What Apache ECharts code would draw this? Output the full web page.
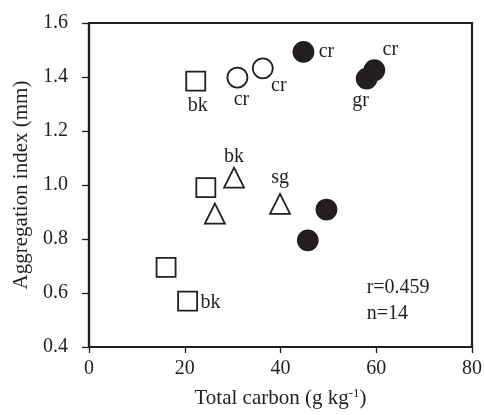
<!DOCTYPE html>
<html>
<head>
<meta charset="utf-8">
<script src="https://cdn.jsdelivr.net/npm/echarts@6/dist/echarts.min.js"></script>
<style>
  html, body { margin: 0; padding: 0; background: #fff; }
  #chart { width: 485px; height: 415px; }
</style>
</head>
<body>
<div id="chart"></div>
<script>
// Total carbon (g/kg) vs aggregation index (mm), grouped by marker type
const squaresX = [22.3, 24.4, 16.1, 20.6];
const squaresY = [1.385, 0.99, 0.695, 0.57];
const squaresTag = ['bk', '', '', 'bk'];

const openCirclesX = [31.0, 36.3];
const openCirclesY = [1.398, 1.432];
const openCirclesTag = ['cr', 'cr'];

const filledCirclesX = [44.8, 58.0, 59.6, 49.6, 45.7];
const filledCirclesY = [1.493, 1.394, 1.425, 0.909, 0.795];
const filledCirclesTag = ['cr', 'gr', 'cr', '', ''];

const trianglesX = [30.3, 39.9, 26.3];
const trianglesY = [1.027, 0.93, 0.894];
const trianglesTag = ['bk', 'sg', ''];

const xTicks = [0, 20, 40, 60, 80];
const yTicks = [0.4, 0.6, 0.8, 1.0, 1.2, 1.4, 1.6];
const statsText = ['r=0.459', 'n=14'];

const INK = '#231f20';
const FONT = '"Liberation Serif", "Times New Roman", serif';

// label placement (pixel offsets from each marker centre)
const squaresOffset = [[2, 25], null, null, [23, 2]];
const openCirclesOffset = [[4, 22], [16, 17]];
const filledCirclesOffset = [[23, 0], [-6, 22], [16, -21], null, null];
const trianglesOffset = [[0, -21], [0, -26], null];

function buildData(xs, ys, tags, offsets) {
  return xs.map((x, i) => {
    const item = { value: [x, ys[i]] };
    if (tags[i]) {
      item.label = {
        show: true,
        formatter: tags[i],
        position: 'inside',
        offset: offsets[i],
        color: INK,
        fontFamily: FONT,
        fontSize: 20
      };
    }
    return item;
  });
}

function series(name, symbol, size, fill, xs, ys, tags, offsets) {
  return {
    name: name,
    type: 'scatter',
    symbol: symbol,
    symbolSize: size,
    itemStyle: { color: fill, borderColor: INK, borderWidth: 1.8, opacity: 1 },
    emphasis: { disabled: true },
    label: { show: false },
    data: buildData(xs, ys, tags, offsets)
  };
}

const chart = echarts.init(document.getElementById('chart'), null, { renderer: 'canvas' });

chart.setOption({
  animation: false,
  backgroundColor: '#ffffff',
  grid: {
    left: 89, right: 12, top: 23, bottom: 68,
    show: true, borderColor: INK, borderWidth: 2.2, backgroundColor: 'transparent'
  },
  xAxis: {
    type: 'value',
    min: xTicks[0], max: xTicks[xTicks.length - 1], interval: 20,
    name: '{a|Total carbon (g kg}{s|-1}{a|)}',
    nameLocation: 'middle',
    nameGap: 40,
    nameTextStyle: {
      rich: {
        a: { fontFamily: FONT, fontSize: 21, color: INK },
        s: { fontFamily: FONT, fontSize: 13, color: INK, verticalAlign: 'top', padding: [0, 0, 10, 0] }
      }
    },
    axisLine: { show: true, lineStyle: { color: INK, width: 2.2 } },
    axisTick: { show: true, inside: false, length: 6, lineStyle: { color: INK, width: 1.3 } },
    axisLabel: { color: INK, fontFamily: FONT, fontSize: 20, margin: 12 },
    splitLine: { show: false }
  },
  yAxis: {
    type: 'value',
    min: yTicks[0], max: yTicks[yTicks.length - 1], interval: 0.2,
    name: 'Aggregation index (mm)',
    nameLocation: 'middle',
    nameGap: 56,
    nameTextStyle: { color: INK, fontFamily: FONT, fontSize: 21 },
    axisLine: { show: true, lineStyle: { color: INK, width: 2.2 } },
    axisTick: { show: true, inside: false, length: 7, lineStyle: { color: INK, width: 1.3 } },
    axisLabel: {
      color: INK, fontFamily: FONT, fontSize: 20, margin: 21,
      formatter: v => v.toFixed(1)
    },
    splitLine: { show: false }
  },
  series: [
    series('squares', 'rect', 19, '#ffffff', squaresX, squaresY, squaresTag, squaresOffset),
    series('open circles', 'circle', 20, '#ffffff', openCirclesX, openCirclesY, openCirclesTag, openCirclesOffset),
    series('triangles', 'triangle', 20, '#ffffff', trianglesX, trianglesY, trianglesTag, trianglesOffset),
    series('filled circles', 'circle', 20, INK, filledCirclesX, filledCirclesY, filledCirclesTag, filledCirclesOffset)
  ]
});

// correlation statistics placed in data space, lower right of the plot
const p1 = chart.convertToPixel({ gridIndex: 0 }, [58, 0.621]);
const p2 = chart.convertToPixel({ gridIndex: 0 }, [58, 0.525]);
chart.setOption({
  graphic: [
    { type: 'text', x: p1[0], y: p1[1], style: { text: statsText[0], fill: INK, font: '20px ' + FONT, textVerticalAlign: 'middle' } },
    { type: 'text', x: p2[0], y: p2[1], style: { text: statsText[1], fill: INK, font: '20px ' + FONT, textVerticalAlign: 'middle' } }
  ]
});
</script>
</body>
</html>
